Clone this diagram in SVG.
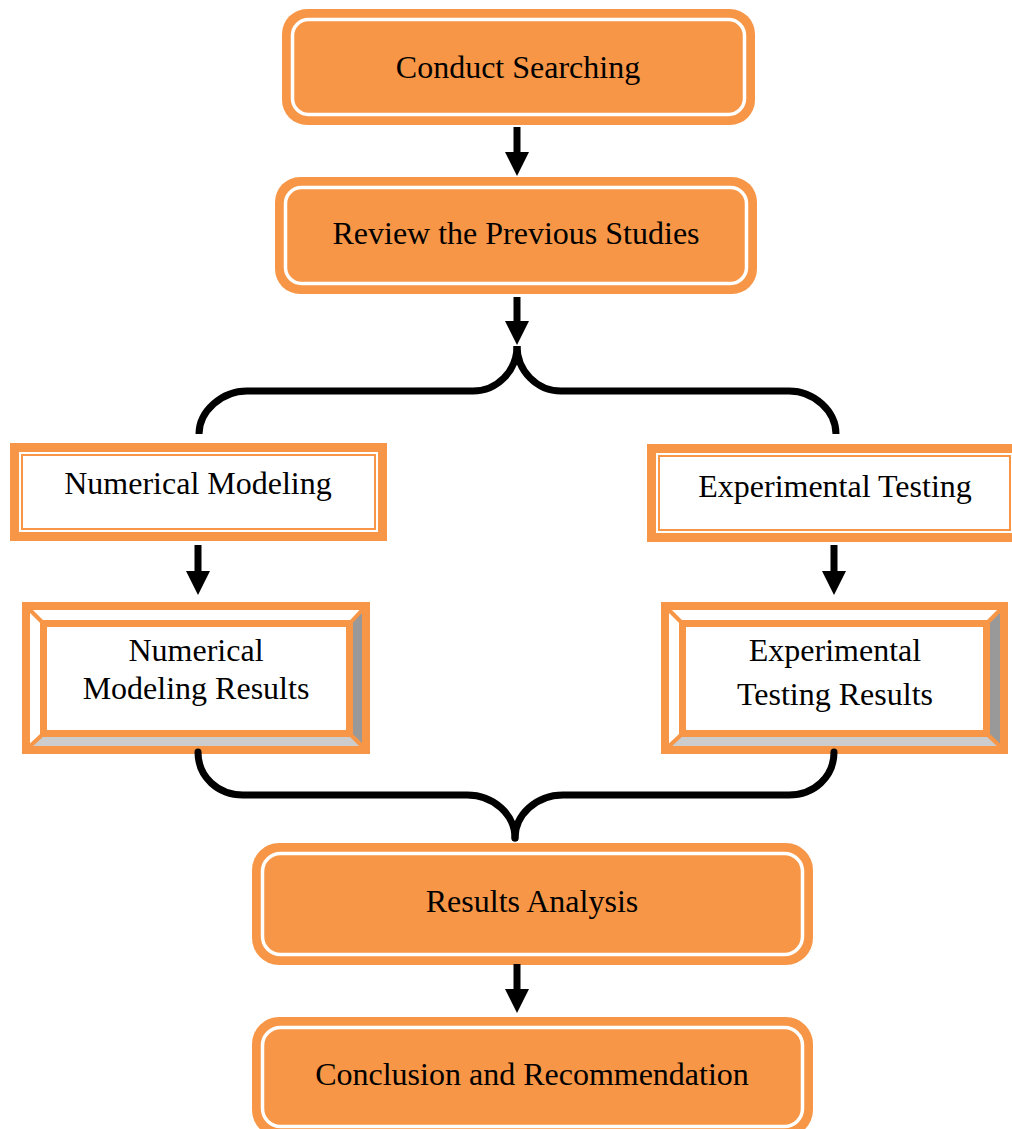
<svg xmlns="http://www.w3.org/2000/svg" width="1012" height="1129" viewBox="0 0 1012 1129">
<defs>
<style>
.t{font-family:"Liberation Serif","Times New Roman",serif;font-size:32px;fill:#000;text-anchor:middle}
.ro{fill:#F79646}
.wl{fill:none;stroke:#fff;stroke-width:3.5}
.thick{fill:#fff;stroke:#F79646;stroke-width:9}
.thin{fill:none;stroke:#F79646;stroke-width:2}
.bframe{fill:none;stroke:#F79646;stroke-width:8}
.iframe{fill:#fff;stroke:#F79646;stroke-width:7}
.diag{stroke:#F79646;stroke-width:4}
.conn{fill:none;stroke:#000;stroke-width:7}
.shaft{stroke:#000;stroke-width:7}
</style>
<marker id="ah" markerUnits="userSpaceOnUse" markerWidth="24" markerHeight="24" viewBox="0 0 24 24" refX="0" refY="12" orient="auto">
<path d="M0,0 L24,12 L0,24 z" fill="#000"/>
</marker>
</defs>

<g id="conduct">
<rect class="ro" x="282" y="9" width="473" height="116" rx="25"/>
<rect class="wl" x="292.5" y="19.5" width="452" height="95" rx="16"/>
<text class="t" x="518" y="78">Conduct Searching</text>
</g>

<g id="review">
<rect class="ro" x="275" y="177" width="482" height="117" rx="25"/>
<rect class="wl" x="285.5" y="187.5" width="461" height="96" rx="16"/>
<text class="t" x="516" y="244">Review the Previous Studies</text>
</g>

<g id="numerical">
<rect class="thick" x="14.5" y="447.5" width="368" height="89"/>
<rect class="thin" x="22" y="455" width="353" height="74"/>
<text class="t" x="198" y="494">Numerical Modeling</text>
</g>

<g id="experimental">
<rect class="thick" x="651.5" y="448.5" width="372" height="89"/>
<rect class="thin" x="659" y="456" width="351" height="74"/>
<text class="t" x="835" y="497">Experimental Testing</text>
</g>

<g id="numresults">
<polygon points="30,610 362,610 353,620 40,620" fill="#fff"/>
<polygon points="30,610 40,620 40,737 30,746" fill="#fff"/>
<polygon points="362,610 362,746 353,737 353,620" fill="#999999"/>
<polygon points="30,746 40,737 353,737 362,746" fill="#cccccc"/>
<line class="diag" x1="28" y1="608" x2="42" y2="622"/>
<line class="diag" x1="364" y1="608" x2="351" y2="622"/>
<line class="diag" x1="28" y1="748" x2="42" y2="735"/>
<line class="diag" x1="364" y1="748" x2="351" y2="735"/>
<rect class="iframe" x="43.5" y="623.5" width="306" height="110"/>
<rect class="bframe" x="26" y="606" width="340" height="144"/>
<text class="t" x="196" y="661">Numerical</text>
<text class="t" x="196" y="699">Modeling Results</text>
</g>

<g id="expresults">
<polygon points="669,610 1000,610 990,620 679,620" fill="#fff"/>
<polygon points="669,610 679,620 679,737 669,746" fill="#fff"/>
<polygon points="1000,610 1000,746 990,737 990,620" fill="#999999"/>
<polygon points="669,746 679,737 990,737 1000,746" fill="#cccccc"/>
<line class="diag" x1="667" y1="608" x2="681" y2="622"/>
<line class="diag" x1="1002" y1="608" x2="988" y2="622"/>
<line class="diag" x1="667" y1="748" x2="681" y2="735"/>
<line class="diag" x1="1002" y1="748" x2="988" y2="735"/>
<rect class="iframe" x="682.5" y="623.5" width="304" height="110"/>
<rect class="bframe" x="665" y="606" width="339" height="144"/>
<text class="t" x="835" y="661">Experimental</text>
<text class="t" x="835" y="705">Testing Results</text>
</g>

<g id="analysis">
<rect class="ro" x="252" y="843" width="561" height="122" rx="27"/>
<rect class="wl" x="262.5" y="853.5" width="540" height="101" rx="18"/>
<text class="t" x="532" y="912">Results Analysis</text>
</g>

<g id="conclusion">
<rect class="ro" x="252" y="1017" width="561" height="120" rx="27"/>
<rect class="wl" x="262.5" y="1027.5" width="540" height="99" rx="18"/>
<text class="t" x="532" y="1085">Conclusion and Recommendation</text>
</g>

<g id="connectors">
<line class="shaft" x1="517" y1="127" x2="517" y2="152" marker-end="url(#ah)"/>
<line class="shaft" x1="517" y1="297" x2="517" y2="321" marker-end="url(#ah)"/>
<line class="shaft" x1="198" y1="545" x2="198" y2="571" marker-end="url(#ah)"/>
<line class="shaft" x1="834" y1="545" x2="834" y2="571" marker-end="url(#ah)"/>
<line class="shaft" x1="517" y1="964" x2="517" y2="989" marker-end="url(#ah)"/>
<path class="conn" d="M517 346 C517 371 497 391 473 391 L247 391 C222 391 199 411 199 434"/>
<path class="conn" d="M517 346 C517 371 537 391 561 391 L789 391 C814 391 836 411 836 434"/>
<path class="conn" d="M198 752 C198 777 218 795 243 795 L467 795 C494 795 515 815 515 838" stroke-linecap="round"/>
<path class="conn" d="M834 752 C834 777 814 795 789 795 L563 795 C536 795 515 815 515 838" stroke-linecap="round"/>
</g>
</svg>
